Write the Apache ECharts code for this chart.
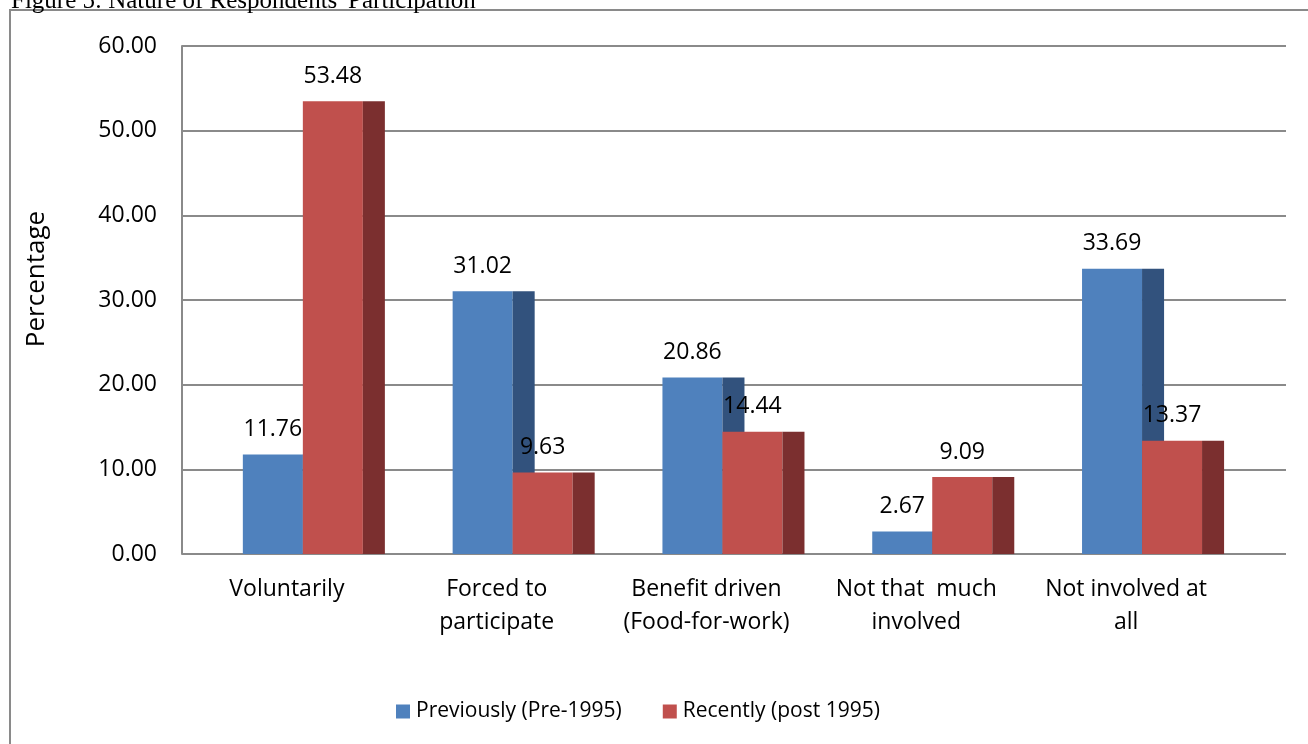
<!DOCTYPE html>
<html>
<head>
<meta charset="utf-8">
<title>Nature of Respondents' Participation</title>
<script src="https://cdn.jsdelivr.net/npm/echarts@6/dist/echarts.min.js"></script>
<style>
  html, body { margin: 0; padding: 0; background: #ffffff; }
  #chart { width: 1308px; height: 744px; }
</style>
</head>
<body>
<div id="chart"></div>
<script>
// Participation categories (line breaks as they wrap under the axis)
const categories = [
  'Voluntarily',
  'Forced to\nparticipate',
  'Benefit driven\n(Food-for-work)',
  'Not that  much\ninvolved',
  'Not involved at\nall'
];
const previouslyValues = [11.76, 31.02, 20.86, 2.67, 33.69];
const recentlyValues = [53.48, 9.63, 14.44, 9.09, 13.37];
const seriesNames = ['Previously (Pre-1995)', 'Recently (post 1995)'];
const yTicks = { min: 0, max: 60, interval: 10 };

const FONT = "'Open Sans', 'Noto Sans', sans-serif";
const GRID_LINE = '#8a8a8a';

// Colours of each series: front face and shaded side face
const palette = [
  { front: '#4F81BD', side: '#32527D' },
  { front: '#C0504D', side: '#7B2F2F' }
];

// Draws a pseudo-3D column: front face plus a darker side face, with its value above
function makeRenderer(seriesIdx) {
  return function (params, api) {
    const cat = api.value(0);
    const val = api.value(1);
    const top = api.coord([cat, val]);
    const base = api.coord([cat, 0]);
    const band = api.size([1, 0])[0];
    const frontW = band * 0.286;
    const sideW = band * 0.105;
    const left = top[0] - band * 0.21 + seriesIdx * frontW;
    const h = base[1] - top[1];
    const c = palette[seriesIdx];
    return {
      type: 'group',
      children: [
        { type: 'rect', shape: { x: left, y: top[1], width: frontW, height: h },
          style: { fill: c.front } },
        { type: 'rect', shape: { x: left + frontW, y: top[1], width: sideW, height: h },
          style: { fill: c.side } },
        { type: 'text', z2: 10,
          style: { x: left + frontW / 2, y: top[1] - 25, text: val.toFixed(2),
                   align: 'center', verticalAlign: 'middle',
                   fontFamily: FONT, fontSize: 23, fill: '#000' } }
      ]
    };
  };
}

const chart = echarts.init(document.getElementById('chart'), null, { renderer: 'canvas' });

chart.setOption({
  animation: false,
  backgroundColor: '#ffffff',
  textStyle: { fontFamily: FONT },
  grid: [
    // back wall: value axis and gridlines
    { left: 182, right: 22, top: 46, bottom: 190 },
    // column plane: category axis and bars
    { left: 182, right: 77, top: 46, bottom: 190 }
  ],
  xAxis: [
    { gridIndex: 0, type: 'value', show: false, min: 0, max: 1 },
    { gridIndex: 1, type: 'category', data: categories,
      axisLine: { show: false }, axisTick: { show: false },
      axisLabel: { interval: 0, margin: 19, fontFamily: FONT, fontSize: 23, color: '#000', lineHeight: 33 } }
  ],
  yAxis: [
    { gridIndex: 0, type: 'value', min: yTicks.min, max: yTicks.max, interval: yTicks.interval,
      axisLine: { show: true, lineStyle: { color: GRID_LINE, width: 2 } },
      axisTick: { show: false },
      splitLine: { show: true, lineStyle: { color: GRID_LINE, width: 2 } },
      axisLabel: { margin: 25, fontFamily: FONT, fontSize: 23, color: '#000',
                   formatter: v => v.toFixed(2) } },
    { gridIndex: 1, type: 'value', min: yTicks.min, max: yTicks.max, interval: yTicks.interval,
      show: false }
  ],
  legend: {
    left: 391, top: 696,
    itemWidth: 14, itemHeight: 14, itemGap: 41,
    icon: 'rect',
    textStyle: { fontFamily: FONT, fontSize: 21, color: '#000', padding: [0, 0, 0, 1] },
    data: seriesNames
  },
  series: [
    { name: seriesNames[0], type: 'custom', xAxisIndex: 1, yAxisIndex: 1,
      itemStyle: { color: palette[0].front },
      renderItem: makeRenderer(0),
      data: previouslyValues.map((v, i) => [i, v]) },
    { name: seriesNames[1], type: 'custom', xAxisIndex: 1, yAxisIndex: 1,
      itemStyle: { color: palette[1].front },
      renderItem: makeRenderer(1),
      data: recentlyValues.map((v, i) => [i, v]) }
  ],
  graphic: [
    { type: 'polyline', silent: true,
      shape: { points: [[10, 744], [10, 10], [1308, 10]] },
      style: { stroke: GRID_LINE, lineWidth: 2, fill: null } },
    { type: 'text', left: 11, top: -11,
      style: { text: "Figure 5: Nature of Respondents' Participation",
               fontFamily: "'Liberation Serif', 'Times New Roman', serif",
               fontSize: 25, fill: '#000' } },
    { type: 'text', x: 37, y: 279, rotation: Math.PI / 2,
      style: { text: 'Percentage', align: 'center', verticalAlign: 'middle',
               fontFamily: FONT, fontSize: 26, fill: '#000' } }
  ]
});
</script>
</body>
</html>
